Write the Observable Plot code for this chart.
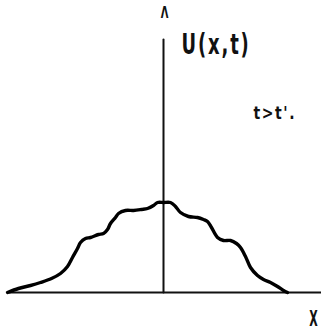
<!DOCTYPE html>
<html>
<head>
<meta charset="utf-8">
<script src="https://cdn.jsdelivr.net/npm/d3@7"></script>
<script src="https://cdn.jsdelivr.net/npm/@observablehq/plot@0.6"></script>
<style>
  html, body { margin: 0; padding: 0; background: #fff; }
  svg { display: block; }
</style>
</head>
<body>
<div id="chart"></div>
<script>
// Curve U(x,t) (x relative to the vertical axis, U above the x axis)
const curveX = [-156, -145, -133, -123, -112, -103, -96, -91, -86, -83, -78, -73, -65, -60, -56, -53, -48, -45, -38, -30, -22, -16, -10, -6, 0, 7, 12, 17, 25, 34, 40, 44, 48, 54, 60, 67, 73, 77, 82, 87, 94, 100, 107, 114, 120, 124];
const curveU = [0, 4, 7, 10, 14, 19, 26, 35, 44, 50, 54, 55, 58, 59, 63, 69, 75, 79, 82, 82, 83, 84, 87, 90, 90, 90, 86, 80, 76, 75, 73, 71, 65, 55, 52, 52, 49, 45, 36, 25, 17, 13, 10, 6, 2, 0];

// Axes extents
const xAxisX = [-155, 158];
const yAxisU = [0, 253];

// Labels (left-anchored)
const labelText = ["U(x,t)", "t>t'."];
const labelX = [18, 90];
const labelU = [238.5, 174];
const labelSize = [29, 18];
const labelSpacing = [3, 2];
// axis name (centered) and arrow head
const axisName = ["X"];
const axisNameX = [150];
const axisNameU = [-33];
const arrowGlyph = ["Λ"];

const curve = curveX.map((x, i) => ({x, u: curveU[i]}));
const labels = labelText.map((t, i) => ({t, x: labelX[i], u: labelU[i], s: labelSize[i], ls: labelSpacing[i]}));
const names = axisName.map((t, i) => ({t, x: axisNameX[i], u: axisNameU[i]}));

const font = "'DejaVu Sans', sans-serif";

const chart = Plot.plot({
  width: 321,
  height: 333,
  margin: 0,
  x: {domain: [-163, 158], axis: null},
  y: {domain: [-41, 292], axis: null},
  marks: [
    Plot.lineX(xAxisX.map(x => ({x, u: 0})), {x: "x", y: "u", stroke: "#111", strokeWidth: 2}),
    Plot.lineY(yAxisU.map(u => ({x: 0, u})), {x: "x", y: "u", stroke: "#111", strokeWidth: 2}),
    Plot.text(arrowGlyph, {x: 1, y: 275, text: d => d, fontSize: 16, fontWeight: "bold", fill: "#111", fontFamily: font, lineAnchor: "middle", className: "cond"}),
    Plot.line(curve, {x: "x", y: "u", curve: "catmull-rom", stroke: "#000", strokeWidth: 3.4}),
    Plot.text(labels, {x: "x", y: "u", text: "t", fontSize: "s", textAnchor: "start", fill: "#111", fontWeight: "bold", fontFamily: font, lineAnchor: "middle", className: "cond"}),
    Plot.text(names, {x: "x", y: "u", text: "t", fontSize: 22, textAnchor: "middle", fill: "#111", fontWeight: "bold", fontFamily: font, lineAnchor: "middle", className: "cond"})
  ]
});
// condense the lettering horizontally like the stencilled original
chart.querySelectorAll(".cond text").forEach(t => {
  const txt = t.textContent;
  const lab = labels.find(l => l.t === txt);
  if (lab) t.setAttribute("letter-spacing", lab.ls);
  const sx = txt === "X" ? 0.5 : (txt === "t>t'." ? 0.78 : 0.62);
  const xa = t.getAttribute("x"), ya = t.getAttribute("y");
  let tr = t.getAttribute("transform") || "";
  if (xa !== null || ya !== null) {
    tr += ` translate(${+xa || 0},${+ya || 0})`;
    t.removeAttribute("x"); t.removeAttribute("y");
  }
  t.setAttribute("transform", tr + ` scale(${sx},1)`);
});
document.getElementById("chart").append(chart);
</script>
</body>
</html>
